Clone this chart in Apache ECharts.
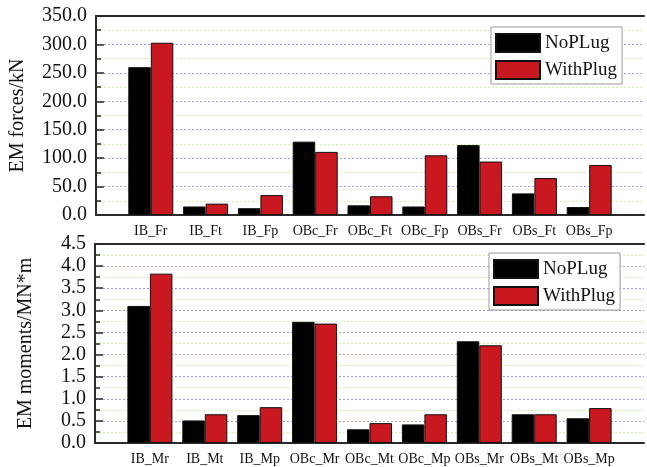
<!DOCTYPE html>
<html>
<head>
<meta charset="utf-8">
<script src="https://cdn.jsdelivr.net/npm/echarts@6/dist/echarts.min.js"></script>
<style>
  html, body { margin: 0; padding: 0; background: #ffffff; }
  #chart { width: 647px; height: 467px; }
</style>
</head>
<body>
<div id="chart"></div>
<script>
// Electromagnetic forces (kN) per component, without and with plug
const forceCategories = ['IB_Fr', 'IB_Ft', 'IB_Fp', 'OBc_Fr', 'OBc_Ft', 'OBc_Fp', 'OBs_Fr', 'OBs_Ft', 'OBs_Fp'];
const forceNoPlug = [260, 15, 12, 129, 17, 15, 123, 38, 14];
const forceWithPlug = [303, 20, 35, 111, 33, 105, 94, 65, 88];

// Electromagnetic moments (MN*m) per component, without and with plug
const momentCategories = ['IB_Mr', 'IB_Mt', 'IB_Mp', 'OBc_Mr', 'OBc_Mt', 'OBc_Mp', 'OBs_Mr', 'OBs_Mt', 'OBs_Mp'];
const momentNoPlug = [3.10, 0.51, 0.63, 2.74, 0.31, 0.42, 2.30, 0.65, 0.56];
const momentWithPlug = [3.83, 0.65, 0.81, 2.70, 0.45, 0.65, 2.21, 0.65, 0.79];

// Value-axis ranges
const forceAxis = { min: 0, max: 350, interval: 50 };
const momentAxis = { min: 0, max: 4.5, interval: 0.5 };

const seriesNames = ['NoPLug', 'WithPlug'];

const FONT = '"Liberation Serif", "Times New Roman", serif';
const AXIS_COLOR = '#2a2a2a';
const RED = '#c9181f';

const chart = echarts.init(document.getElementById('chart'), null, { renderer: 'canvas' });

// bars sit at positions 1..9 on a 0..10 axis
function toPoints(values) {
  return values.map((v, i) => [i + 1, v]);
}

function bottomXAxis(gridIndex, cats) {
  return {
    type: 'value', gridIndex, position: 'bottom', min: 0, max: 10, interval: 1,
    axisLine: { show: true, onZero: false, lineStyle: { color: AXIS_COLOR, width: 2 } },
    axisTick: { show: false },
    splitLine: { show: false },
    axisLabel: {
      margin: 9, fontFamily: FONT, fontSize: 14, color: '#111',
      formatter: v => (v >= 1 && v <= cats.length ? cats[v - 1] : '')
    }
  };
}

function topXAxis(gridIndex) {
  return {
    type: 'value', gridIndex, position: 'top', min: 0, max: 10,
    axisLine: { show: true, onZero: false, lineStyle: { color: AXIS_COLOR, width: 2 } },
    axisTick: { show: false }, axisLabel: { show: false }, splitLine: { show: false }
  };
}

function yAxis(gridIndex, range, name, nameGap) {
  return {
    type: 'value', gridIndex, min: range.min, max: range.max, interval: range.interval,
    name, nameLocation: 'middle', nameGap, nameRotate: 90,
    nameTextStyle: { fontFamily: FONT, fontSize: 20, color: '#111' },
    axisLine: { show: true, onZero: false, lineStyle: { color: AXIS_COLOR, width: 2 } },
    axisTick: { show: true, inside: true, length: 8, lineStyle: { color: AXIS_COLOR, width: 1.5 } },
    minorTick: { show: true, splitNumber: 2, length: 5, lineStyle: { color: AXIS_COLOR, width: 1.5 } },
    axisLabel: {
      margin: 9, fontFamily: FONT, fontSize: 20, color: '#111',
      formatter: v => v.toFixed(1)
    },
    splitLine: { show: true, lineStyle: { color: '#9a9aff', type: [2, 2], width: 1 } },
    minorSplitLine: { show: true, lineStyle: { color: '#cdf3a6', type: [2, 2], width: 1 } }
  };
}

function legend(left, top) {
  return {
    left, top, orient: 'vertical',
    data: seriesNames,
    icon: 'rect',
    itemWidth: 44, itemHeight: 18, itemGap: 7,
    padding: [6, 5, 4, 4],
    borderColor: '#9a9a9a', borderWidth: 1, backgroundColor: '#ffffff',
    textStyle: { fontFamily: FONT, fontSize: 19, color: '#111', lineHeight: 18 }
  };
}

function bars(name, values, color, xAxisIndex, yAxisIndex) {
  return {
    type: 'bar', name, data: toPoints(values), xAxisIndex, yAxisIndex,
    barWidth: 22.5, barGap: '0%',
    itemStyle: { color, borderColor: '#111', borderWidth: 1 },
    emphasis: { disabled: true }
  };
}

chart.setOption({
  animation: false,
  backgroundColor: '#ffffff',
  grid: [
    { left: 95, right: -3, top: 16, height: 199 },
    { left: 95, right: -3, top: 244, height: 199 }
  ],
  legend: [legend(491, 27), legend(489, 253)],
  xAxis: [
    bottomXAxis(0, forceCategories),
    bottomXAxis(1, momentCategories),
    topXAxis(0),
    topXAxis(1)
  ],
  yAxis: [
    yAxis(0, forceAxis, 'EM forces/kN', 68),
    yAxis(1, momentAxis, 'EM moments/MN*m', 59)
  ],
  series: [
    bars(seriesNames[0], forceNoPlug, '#000000', 0, 0),
    bars(seriesNames[1], forceWithPlug, RED, 0, 0),
    bars(seriesNames[0], momentNoPlug, '#000000', 1, 1),
    bars(seriesNames[1], momentWithPlug, RED, 1, 1)
  ]
});
</script>
</body>
</html>
